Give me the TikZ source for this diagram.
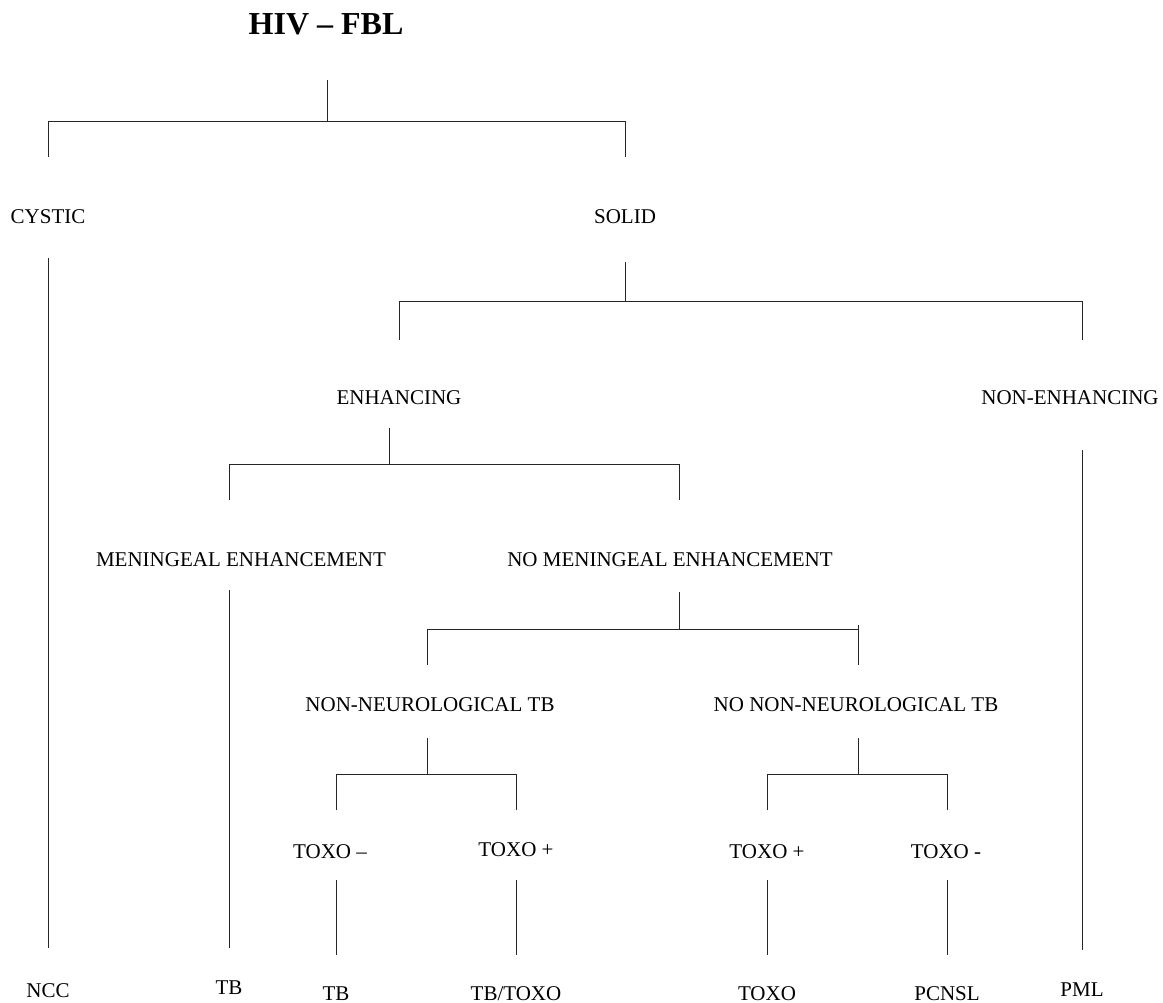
\documentclass[tikz,border=0pt]{standalone}
\usepackage{fontspec}
\setmainfont{Liberation Serif}
\begin{document}
\begin{tikzpicture}[x=1pt,y=-1pt,
  lbl/.style={anchor=base,inner sep=0pt,font=\fontsize{21}{25}\selectfont},
  ttl/.style={anchor=base,inner sep=0pt,font=\fontsize{32}{38}\selectfont\bfseries},
  conn/.style={line width=1pt,color=black!85}]
\useasboundingbox (0,0) rectangle (1163,1003);
% texts
\node[ttl] (title) at (326,35) {HIV – FBL};
\node[lbl] (cystic) at (48,224) {CYSTIC};
\node[lbl] (solid) at (625,224) {SOLID};
\node[lbl] (enh) at (399,404) {ENHANCING};
\node[lbl] (nonenh) at (1070,404) {NON-ENHANCING};
\node[lbl] (men) at (241,566) {MENINGEAL ENHANCEMENT};
\node[lbl] (nomen) at (670,566) {NO MENINGEAL ENHANCEMENT};
\node[lbl] (nntb) at (430,711) {NON-NEUROLOGICAL TB};
\node[lbl] (nonntb) at (856,711) {NO NON-NEUROLOGICAL TB};
\node[lbl] (tmA) at (330,858) {TOXO –};
\node[lbl] (tpA) at (516,856) {TOXO +};
\node[lbl] (tpB) at (767,858) {TOXO +};
\node[lbl] (tmB) at (946,858) {TOXO -};
\node[lbl] (ncc) at (48,997) {NCC};
\node[lbl] (tbA) at (229,994) {TB};
\node[lbl] (tbB) at (336,1000) {TB};
\node[lbl] (tbtoxo) at (516,1000) {TB/TOXO};
\node[lbl] (toxo) at (767,1000) {TOXO};
\node[lbl] (pcnsl) at (947,1000) {PCNSL};
\node[lbl] (pml) at (1082,996) {PML};
% junction coordinates
\coordinate (r0) at (327,80);  \coordinate (r1) at (327,122);
\coordinate (rl) at (48,122);  \coordinate (rr) at (625,122);
\coordinate (rld) at (48,157); \coordinate (rrd) at (625,157);
\coordinate (c0) at (48,258);  \coordinate (c1) at (48,948);
\coordinate (s0) at (625,262); \coordinate (s1) at (625,302);
\coordinate (sl) at (399,302); \coordinate (sr) at (1082,302);
\coordinate (sld) at (399,340); \coordinate (srd) at (1082,340);
\coordinate (n0) at (1082,450); \coordinate (n1) at (1082,950);
\coordinate (e0) at (389,428); \coordinate (e1) at (389,464);
\coordinate (el) at (229,464); \coordinate (er) at (679,464);
\coordinate (eld) at (229,500); \coordinate (erd) at (679,500);
\coordinate (m0) at (229,590); \coordinate (m1) at (229,948);
\coordinate (o0) at (679,592); \coordinate (o1) at (679,629);
\coordinate (ol) at (427,629); \coordinate (or) at (858,629);
\coordinate (old) at (427,665); \coordinate (ordd) at (858,665);
\coordinate (ort) at (858,625);
\coordinate (a0) at (427,738); \coordinate (a1) at (427,774);
\coordinate (al) at (336,774); \coordinate (ar) at (516,774);
\coordinate (ald) at (336,810); \coordinate (ard) at (516,810);
\coordinate (b0) at (858,738); \coordinate (b1) at (858,774);
\coordinate (bl) at (767,774); \coordinate (br) at (947,774);
\coordinate (bld) at (767,810); \coordinate (brd) at (947,810);
\coordinate (t1a) at (336,880); \coordinate (t1b) at (336,955);
\coordinate (t2a) at (516,880); \coordinate (t2b) at (516,955);
\coordinate (t3a) at (767,880); \coordinate (t3b) at (767,955);
\coordinate (t4a) at (947,880); \coordinate (t4b) at (947,955);
% connectors
\draw[conn] (r0) -- (r1);
\draw[conn] (rld) -- (rl) -- (rr) -- (rrd);
\draw[conn] (c0) -- (c1);
\draw[conn] (s0) -- (s1);
\draw[conn] (sld) -- (sl) -- (sr) -- (srd);
\draw[conn] (n0) -- (n1);
\draw[conn] (e0) -- (e1);
\draw[conn] (eld) -- (el) -- (er) -- (erd);
\draw[conn] (m0) -- (m1);
\draw[conn] (o0) -- (o1);
\draw[conn] (old) -- (ol) -- (or);
\draw[conn] (ort) -- (ordd);
\draw[conn] (a0) -- (a1);
\draw[conn] (ald) -- (al) -- (ar) -- (ard);
\draw[conn] (b0) -- (b1);
\draw[conn] (bld) -- (bl) -- (br) -- (brd);
\draw[conn] (t1a) -- (t1b);
\draw[conn] (t2a) -- (t2b);
\draw[conn] (t3a) -- (t3b);
\draw[conn] (t4a) -- (t4b);
\end{tikzpicture}
\end{document}
